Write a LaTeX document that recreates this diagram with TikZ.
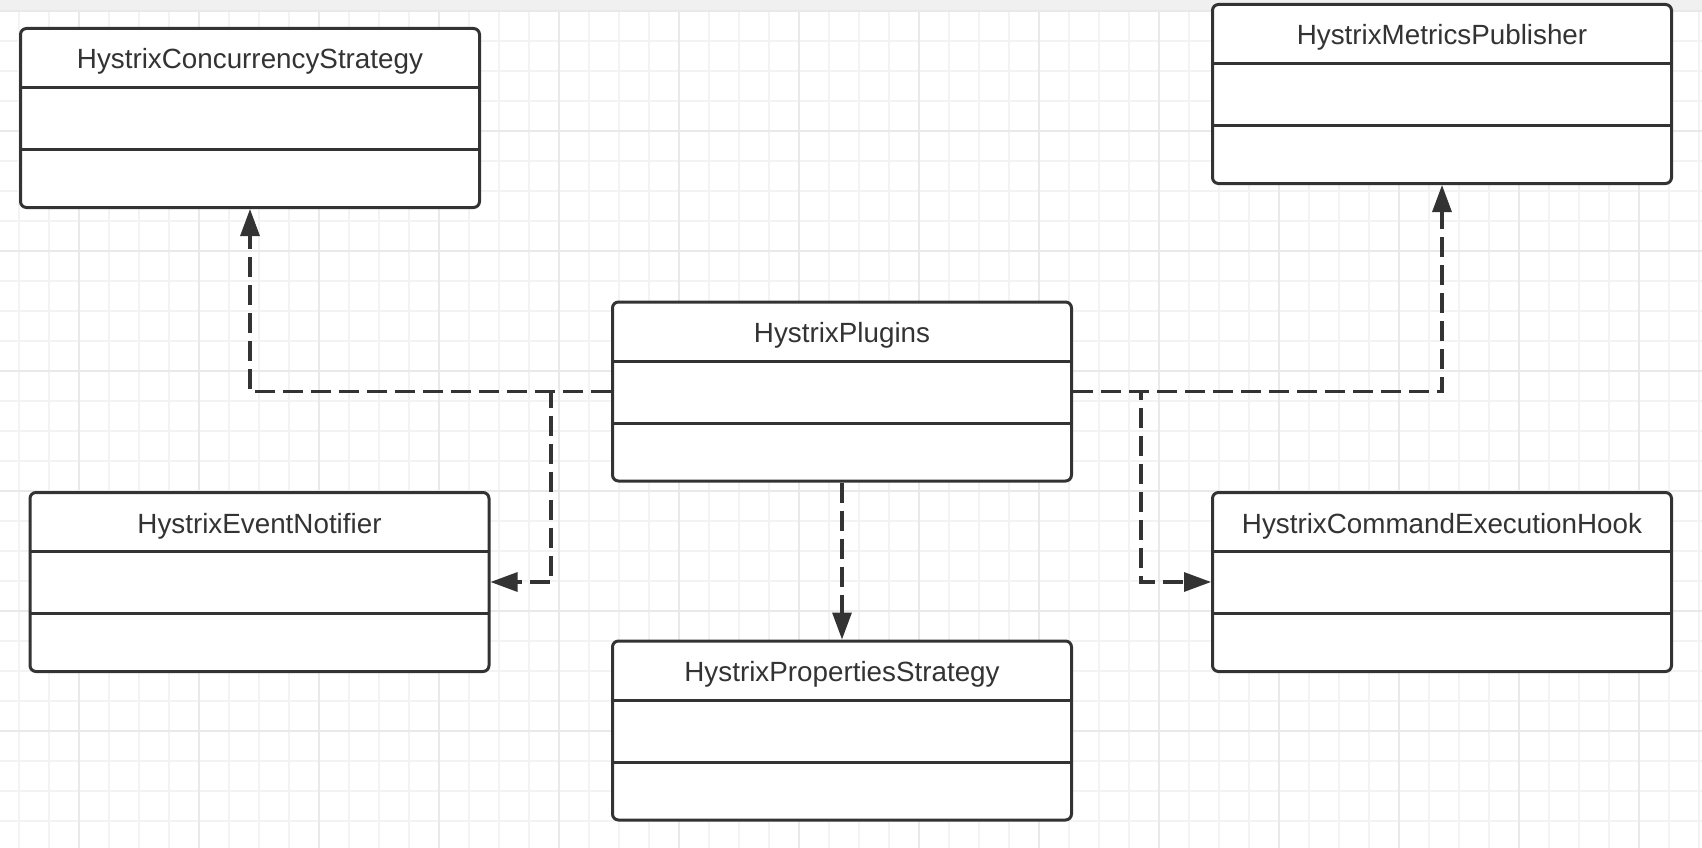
\documentclass[tikz,border=0pt]{standalone}
\usepackage{fontspec}
\setmainfont{Liberation Sans}
\usepackage{xcolor}
\usepackage{tikz}
\usetikzlibrary{arrows.meta, positioning}
\definecolor{umlline}{HTML}{333333}
\definecolor{gridfaint}{HTML}{F3F3F3}
\definecolor{gridstrong}{HTML}{E9E9E9}
\definecolor{topband}{HTML}{F0F0F0}

\begin{document}
\begin{tikzpicture}[x=1pt,y=-1pt,>={Triangle[length=27pt,width=19pt]},
  umlclass/.style={draw=umlline,line width=3pt,fill=white,rounded corners=6pt,
    minimum width=459pt,inner xsep=0pt,inner ysep=0pt,
    text height=40.5pt,text depth=138.5pt,text=umlline,
    font=\fontsize{27.8pt}{33pt}\selectfont,
    path picture={
      \draw[umlline,line width=3pt]
        ([yshift=-59pt]path picture bounding box.north west) -- ([yshift=-59pt]path picture bounding box.north east)
        ([yshift=-121pt]path picture bounding box.north west) -- ([yshift=-121pt]path picture bounding box.north east);}},
  dep/.style={->,umlline,line width=3.2pt,dash pattern=on 20pt off 8pt},
  gridfine/.style={gridfaint,line width=1.5pt},
  gridbold/.style={gridstrong,line width=1.8pt}]
  \useasboundingbox (0,0) rectangle (1702,848);
  \fill[white] (0,0) rectangle (1702,848);
  \fill[topband] (0,0) rectangle (1702,10);
  \foreach \gx in {19,49,...,1699} \draw[gridfine] (\gx,10) -- (\gx,848);
  \foreach \gy in {11,41,...,821} \draw[gridfine] (0,\gy) -- (1702,\gy);
  \foreach \gx in {79,199,...,1639} \draw[gridbold] (\gx,10) -- (\gx,848);
  \foreach \gy in {11,131,...,731} \draw[gridbold] (0,\gy) -- (1702,\gy);

  \node[umlclass] (plugins) at (842,391.5) {HystrixPlugins};
  \node[umlclass,below=157pt of plugins] (props) {HystrixPropertiesStrategy};
  \node[umlclass] (concur) at (250,118) {HystrixConcurrencyStrategy};
  \node[umlclass] (metrics) at (1442,94) {HystrixMetricsPublisher};
  \node[umlclass] (notifier) at (259.5,582) {HystrixEventNotifier};
  \node[umlclass] (hook) at (1442,582) {HystrixCommandExecutionHook};

  \coordinate (lsplit) at (551,391.5);
  \coordinate (rsplit) at (1141,391.5);
  \draw[dep] (plugins.west) -| (concur.south);
  \draw[dep] (plugins.west) -- (lsplit) |- (notifier.east);
  \draw[dep] (plugins.east) -| (metrics.south);
  \draw[dep] (plugins.east) -- (rsplit) |- (hook.west);
  \draw[dep] (plugins.south) -- (props.north);
\end{tikzpicture}
\end{document}
